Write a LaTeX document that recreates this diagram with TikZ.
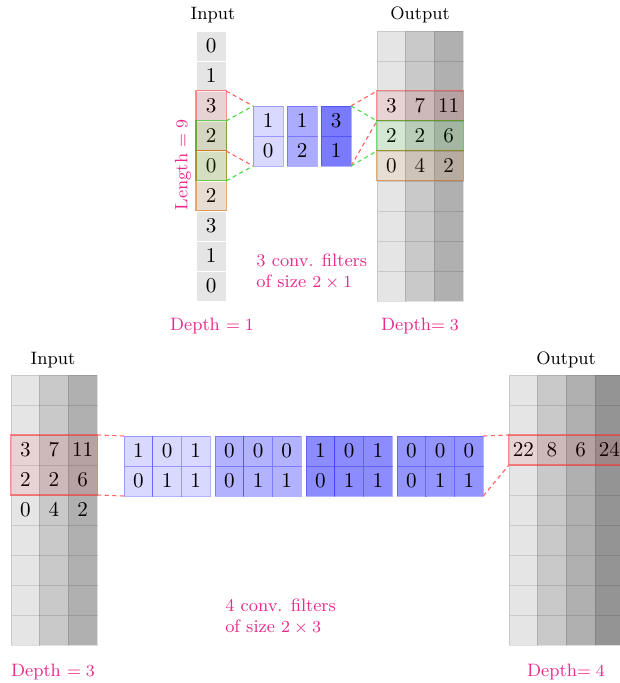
\documentclass[tikz,border=0pt]{standalone}
\usepackage{amsmath}
\usetikzlibrary{calc}

\definecolor{lblpink}{RGB}{236,40,140}

\tikzset{
  cell/.style={rectangle, minimum width=0.48cm, minimum height=0.5cm,
    inner sep=0pt, outer sep=0pt, line width=0.3pt,
    font=\fontsize{10}{12}\selectfont},
  gcell/.style={cell, draw=black, draw opacity=0.12},
  fcell/.style={cell, draw=blue, draw opacity=0.3},
  lbl/.style={font=\fontsize{8.5}{10}\selectfont},
  pinklbl/.style={lbl, text=lblpink},
  redbox/.style={draw=red!80, draw opacity=0.55, line width=0.5pt, fill=red, fill opacity=0.08},
  greenbox/.style={draw=green!75!black, draw opacity=0.55, line width=0.5pt, fill=green, fill opacity=0.08},
  orangebox/.style={draw=orange!80!black, draw opacity=0.55, line width=0.5pt, fill=orange, fill opacity=0.08},
  reddash/.style={red!60, dashed, dash pattern=on 2pt off 1.6pt, line width=0.55pt},
  greendash/.style={green!80!black!70, dashed, dash pattern=on 2pt off 1.6pt, line width=0.55pt}
}

\begin{document}
\begin{tikzpicture}
    \useasboundingbox (0,0) rectangle (10.333,11.383);

    %%% top: depth 1 -> depth 3
    % input column
    \foreach \v [count=\r] in {0,1,3,2,0,2,3,1,0}
      \node[cell, minimum width=0.5cm, fill=black!10, draw=white] (ti-\r)
        at (3.517, {10.617-0.5*(\r-1)}) {$\v$};
    % output columns
    \foreach \c/\shade/\vals in {1/10/{{},{},3,2,0,{},{},{},{}},
                                 2/21/{{},{},7,2,4,{},{},{},{}},
                                 3/31/{{},{},11,6,2,{},{},{},{}}}
      \foreach \v [count=\r] in \vals
        \node[gcell, fill=black!\shade] (to-\c-\r)
          at ({6.522+0.478*(\c-1)}, {10.617-0.5*(\r-1)}) {$\v$};
    % filters
    \foreach \k/\shade/\a/\b in {1/15/1/0, 2/33/1/2, 3/52/3/1} {
      \node[fcell, minimum width=0.5cm, fill=blue!\shade] (tf-\k-1)
        at ({4.467+0.567*(\k-1)}, 9.367) {$\a$};
      \node[fcell, minimum width=0.5cm, fill=blue!\shade] (tf-\k-2)
        at ({4.467+0.567*(\k-1)}, 8.867) {$\b$};
    }
    % windows
    \draw[redbox] (ti-3.north west) rectangle (ti-4.south east);
    \draw[greenbox] (ti-4.north west) rectangle (ti-5.south east);
    \draw[orangebox] (ti-5.north west) rectangle (ti-6.south east);
    \draw[redbox] (to-1-3.north west) rectangle (to-3-3.south east);
    \draw[greenbox] (to-1-4.north west) rectangle (to-3-4.south east);
    \draw[orangebox] (to-1-5.north west) rectangle (to-3-5.south east);
    % dashed links
    \draw[reddash] (ti-3.north east) -- (tf-1-1.north west);
    \draw[reddash] (ti-4.south east) -- (tf-1-2.south west);
    \draw[greendash] (ti-4.north east) -- (tf-1-1.north west);
    \draw[greendash] (ti-5.south east) -- (tf-1-2.south west);
    \draw[reddash] (tf-3-1.north east) -- (to-1-3.north west);
    \draw[reddash] (tf-3-2.south east) -- (to-1-3.south west);
    \draw[greendash] (tf-3-1.north east) -- (to-1-4.north west);
    \draw[greendash] (tf-3-2.south east) -- (to-1-4.south west);
    % labels
    \node[lbl] (tin) at (3.55, 11.133) {Input};
    \node[lbl] (tout) at (7.0, 11.133) {Output};
    \node[pinklbl, rotate=90] (tlen) at (3.05, 8.633) {Length $=9$};
    \node[pinklbl, anchor=west, align=left] (tfil) at (4.15, 6.858)
      {3 conv. filters\\of size $2\times 1$};
    \node[pinklbl] (tdin) at (3.533, 5.95) {Depth $=1$};
    \node[pinklbl] (tdout) at (7.0, 5.95) {Depth$=3$};

    %%% bottom: depth 3 -> depth 4
    % input columns
    \foreach \c/\shade/\vals in {1/10/{{},{},3,2,0,{},{},{},{}},
                                 2/21/{{},{},7,2,4,{},{},{},{}},
                                 3/31/{{},{},11,6,2,{},{},{},{}}}
      \foreach \v [count=\r] in \vals
        \node[gcell, fill=black!\shade] (bi-\c-\r)
          at ({0.422+0.478*(\c-1)}, {4.883-0.5*(\r-1)}) {$\v$};
    % output columns
    \foreach \c/\shade/\vals in {1/10/{{},{},22,{},{},{},{},{},{}},
                                 2/21/{{},{},8,{},{},{},{},{},{}},
                                 3/31/{{},{},6,{},{},{},{},{},{}},
                                 4/42/{{},{},24,{},{},{},{},{},{}}}
      \foreach \v [count=\r] in \vals
        \node[gcell, fill=black!\shade] (bo-\c-\r)
          at ({8.722+0.478*(\c-1)}, {4.883-0.5*(\r-1)}) {$\v$};
    % filters
    \foreach \k/\shade/\vals in {1/15/{1,0,1,0,1,1}, 2/30/{0,0,0,0,1,1},
                                 3/45/{1,0,1,0,1,1}, 4/42/{0,0,0,0,1,1}}
      \foreach \v [count=\i] in \vals {
        \pgfmathtruncatemacro\c{mod(\i-1,3)+1}
        \pgfmathtruncatemacro\r{(\i-1)/3+1}
        \node[fcell, fill=blue!\shade] (bf-\k-\c-\r)
          at ({2.306+1.517*(\k-1)+0.478*(\c-1)}, {3.867-0.5*(\r-1)}) {$\v$};
      }
    % windows
    \draw[redbox] (bi-1-3.north west) rectangle (bi-3-4.south east);
    \draw[redbox] (bo-1-3.north west) rectangle (bo-4-3.south east);
    % dashed links
    \draw[reddash] (bi-3-3.north east) -- (bf-1-1-1.north west);
    \draw[reddash] (bi-3-4.south east) -- (bf-1-1-2.south west);
    \draw[reddash] (bf-4-3-1.north east) -- (bo-1-3.north west);
    \draw[reddash] (bf-4-3-2.south east) -- (bo-1-3.south west);
    % labels
    \node[lbl] (bin) at (0.883, 5.383) {Input};
    \node[lbl] (bout) at (9.433, 5.383) {Output};
    \node[pinklbl, anchor=west, align=left] (bfil) at (3.63, 1.108)
      {4 conv. filters\\of size $2\times 3$};
    \node[pinklbl] (bdin) at (0.883, 0.183) {Depth $=3$};
    \node[pinklbl] (bdout) at (9.433, 0.183) {Depth$=4$};
\end{tikzpicture}
\end{document}
